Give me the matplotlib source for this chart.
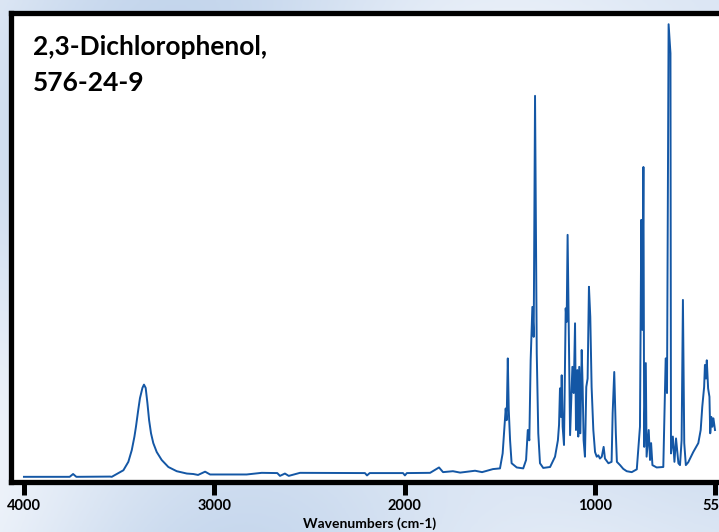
import numpy as np
import matplotlib
matplotlib.use("Agg")
import matplotlib.pyplot as plt
from matplotlib.colors import LinearSegmentedColormap

# IR spectrum (wavenumber in cm-1, relative absorbance 0-100)
wavenumber = [
    4000, 3760, 3742, 3725, 3548, 3539, 3513, 3478, 3452, 3434, 3420, 3412,
    3400, 3391, 3378, 3370, 3361, 3352, 3343, 3333, 3321, 3303, 3277, 3242,
    3198, 3145, 3111, 3086, 3049, 3023, 2971, 2831, 2752, 2670, 2656, 2630,
    2610, 2551, 2210, 2199, 2185, 2010, 2000, 1990, 1868, 1821, 1800, 1748,
    1710, 1632, 1595, 1538, 1501, 1487, 1480, 1471, 1466, 1460, 1455, 1448,
    1440, 1413, 1379, 1364, 1355, 1347, 1340, 1331, 1324, 1317, 1308, 1300,
    1291, 1274, 1238, 1212, 1197, 1191, 1186, 1181, 1177, 1172, 1165, 1156,
    1151, 1146, 1139, 1133, 1128, 1121, 1114, 1107, 1102, 1095, 1090, 1085,
    1079, 1072, 1067, 1062, 1055, 1048, 1041, 1034, 1027, 1020, 1011, 1002,
    995, 989, 983, 976, 969, 964, 951, 939, 935, 929, 923, 919, 907, 895,
    882, 863, 844, 832, 827, 823, 819, 816, 810, 807, 799, 794, 790, 785,
    769, 744, 735, 730, 724, 720, 717, 715, 708, 702, 696, 687, 681, 675,
    670, 665, 659, 650, 631, 612, 603, 597, 590, 587, 583, 580, 575, 570,
    567, 563, 559, 555, 549,
]
absorbance = [
    0.7, 0.7, 1.3, 0.7, 0.75, 0.7, 1.3, 2.1, 3.9, 6.4, 9.3, 11.4,
    15.0, 17.5, 19.7, 20.4, 19.7, 16.5, 12.8, 10.0, 7.9, 6.0, 4.3, 2.8,
    1.9, 1.4, 1.3, 1.1, 1.8, 1.2, 1.2, 1.2, 1.55, 1.5, 0.9, 1.4,
    0.9, 1.55, 1.5, 1.0, 1.5, 1.5, 1.0, 1.5, 1.55, 2.7, 1.7, 1.9,
    1.6, 2.0, 1.7, 2.35, 2.5, 5.7, 10.0, 15.3, 12.8, 26.0, 15.0, 8.5,
    3.6, 2.7, 2.5, 4.3, 10.7, 8.5, 25.6, 37.0, 30.6, 82.1, 27.1, 10.0,
    3.6, 2.6, 2.8, 5.0, 8.5, 11.8, 19.6, 13.5, 22.4, 11.4, 7.5, 36.7,
    33.8, 52.4, 29.9, 9.6, 15.7, 24.2, 18.6, 33.5, 10.7, 23.5, 9.3, 24.2,
    10.0, 27.8, 19.9, 8.5, 5.0, 19.9, 21.7, 41.3, 34.9, 19.9, 10.7, 6.0,
    5.0, 5.3, 4.6, 5.0, 7.1, 4.6, 3.6, 3.9, 14.3, 23.1, 10.0, 3.9, 3.2, 2.4,
    1.9, 1.7, 2.3, 11.4, 55.6, 32.1, 66.9, 7.1, 25.0, 5.0, 10.7, 4.3, 7.9, 3.2,
    2.7, 2.8, 26.0, 18.6, 97.4, 94.0, 91.2, 5.7, 9.3, 3.9, 8.9, 3.6, 3.2, 8.5,
    38.5, 7.9, 3.2, 3.8, 6.0, 7.9, 10.7, 15.7, 19.9, 24.6, 21.7, 25.6, 19.6, 17.8,
    10.0, 13.5, 11.4, 13.2, 10.7,
]

tick_values = [4000, 3000, 2000, 1000, 550]
title_lines = ["2,3-Dichlorophenol,", "576-24-9"]
x_label = "Wavenumbers (cm-1)"

# the region below 1000 cm-1 is stretched on the original axis
stretch = 1.392


def forward(x):
    x = np.asarray(x, dtype=float)
    return np.where(x >= 1000, x, 1000 - (1000 - x) * stretch)


def inverse(x):
    x = np.asarray(x, dtype=float)
    return np.where(x >= 1000, x, 1000 - (1000 - x) / stretch)


plt.rcParams["font.family"] = ["Lato", "DejaVu Sans"]

fig = plt.figure(figsize=(7.19, 5.32), dpi=100)

# pale blue backdrop
bg = fig.add_axes([0, 0, 1, 1], zorder=-10)
gy, gx = np.mgrid[0:1:200j, 0:1:200j]
shade = 0.5 + 0.5 * np.sin(gx * 6.0 + gy * 2.5) * np.cos(gy * 3.0 - gx * 1.5)
pale = LinearSegmentedColormap.from_list("pale", ["#f4f7fc", "#c3d5ec"])
bg.imshow(shade, cmap=pale, vmin=0, vmax=1, aspect="auto", extent=[0, 1, 0, 1])
bg.axis("off")

ax = fig.add_axes([11 / 719, 50.5 / 532, 717 / 719, 468.5 / 532])
ax.set_facecolor("white")
ax.set_xscale("function", functions=(forward, inverse))
ax.plot(wavenumber, absorbance, color="#1457a5", lw=1.4)

ax.set_xlim(4068, 500)
ax.set_ylim(-0.3, 99.8)
ax.set_xticks(tick_values)
ax.set_xticklabels([str(t) for t in tick_values])
ax.minorticks_off()
ax.set_yticks([])

for side in ["top", "bottom", "left", "right"]:
    ax.spines[side].set_linewidth(3.8)
    ax.spines[side].set_color("black")

ax.tick_params(axis="x", direction="out", length=9.5, width=3.6, pad=3,
               labelsize=10.5)
for lab in ax.get_xticklabels():
    lab.set_fontweight("bold")

ax.set_xlabel(x_label, fontsize=10, fontweight="bold", labelpad=3)

ax.text(0.031, 0.952, title_lines[0], transform=ax.transAxes, fontsize=19,
        fontweight="bold", va="top", ha="left")
ax.text(0.031, 0.877, title_lines[1], transform=ax.transAxes, fontsize=19,
        fontweight="bold", va="top", ha="left")

fig.savefig("out.png", dpi=100)
